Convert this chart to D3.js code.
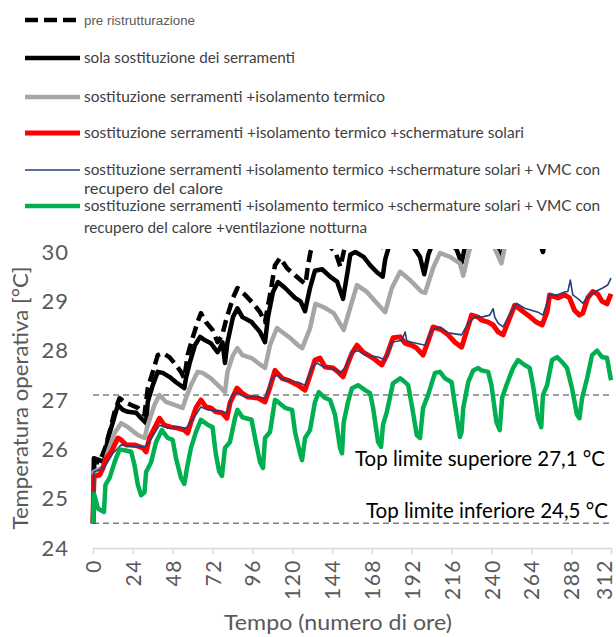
<!DOCTYPE html>
<html>
<head>
<meta charset="utf-8">
<script src="https://cdn.jsdelivr.net/npm/d3@7"></script>
<style>
  body { margin: 0; background: #fff; }
  text { font-family: Lato, 'Open Sans', sans-serif; }
</style>
</head>
<body>
<svg id="chart" width="616" height="637"></svg>
<script>
// tick values
const xTicks = [0, 24, 48, 72, 96, 120, 144, 168, 192, 216, 240, 264, 288, 312];
const yTicks = [24, 25, 26, 27, 28, 29, 30];

// comfort limits
const limitValues = [27.1, 24.5];
const limitLabels = ['Top limite superiore 27,1 °C', 'Top limite inferiore 24,5 °C'];

// [hour, operative temperature]
const preRistrutturazione = [[0,24.5],[0.8,25.74],[4,25.74],[8,26.09],[10,26.35],[13,26.76],[16,27.04],[19,26.96],[23,26.9],[27,26.84],[31,26.7],[33,27.24],[36,27.57],[39,27.91],[42,27.95],[46,27.87],[49,27.75],[53,27.57],[55,27.44],[57,27.91],[60,28.26],[63,28.58],[65,28.76],[68,28.58],[72,28.42],[75,28.17],[77.7,28.3],[80,28.6],[84.3,29.07],[87,29.27],[91.6,29.13],[96.4,28.96],[100.6,28.78],[103.6,28.58],[106.6,29.13],[109.6,29.73],[112.7,29.88],[116.9,29.67],[121.7,29.53],[126.5,29.39],[128,29.35],[129.5,29.73],[131,30.0],[134,30.3],[140,30.2],[146,30.0],[149,29.7],[151,30.0],[155,30.5],[165,30.4],[174,30.1],[178,30.6],[190,30.7],[199,30.4],[205,30.9],[215,30.8],[222,30.5],[228,31.0],[245,30.7],[255,31.2],[270,31.0],[280,31.4],[295,31.3],[312,31.6]];

const solaSerramenti = [[0,24.5],[0.5,25.82],[4,25.78],[6.6,25.74],[9,26.23],[12,26.55],[15,26.9],[18,26.8],[21,26.76],[26,26.74],[29,26.63],[32,26.53],[33,26.96],[36,27.3],[39,27.57],[42,27.55],[46,27.47],[50,27.36],[55,27.24],[56,27.44],[58.4,27.77],[61.4,28.11],[64.5,28.28],[67.5,28.21],[71,28.15],[75,27.97],[76.5,28.05],[78,28.17],[79.5,27.75],[81,28.17],[84.3,28.68],[87,28.86],[90,28.68],[95.5,28.58],[100.6,28.38],[103.6,28.17],[105.4,28.68],[108.4,29.19],[111.4,29.39],[115.7,29.27],[121.7,29.07],[125,29.0],[127.7,28.8],[130.7,29.27],[133.7,29.62],[138,29.65],[142.8,29.5],[147,29.4],[150.6,29.05],[153,29.53],[155,29.95],[158,30.0],[163,29.9],[167,29.73],[171,29.59],[174.5,29.5],[176,29.85],[179,30.2],[186,30.3],[193,30.1],[197,29.9],[199.5,29.55],[202,29.95],[206,30.3],[212,30.3],[219,30.05],[222,29.78],[224,30.1],[228,30.6],[236,30.5],[242,30.2],[246,29.88],[249,30.3],[255,30.7],[262,30.5],[268,30.3],[271,30.0],[274,30.5],[280,30.9],[292,30.7],[300,31.1],[312,31.2]];

const isolamento = [[0,24.5],[0.5,25.54],[6,25.64],[9,25.95],[13,26.33],[17,26.53],[21,26.45],[27,26.29],[31,26.23],[33,26.49],[37,26.9],[40,27.1],[44,26.96],[49,26.9],[54,26.84],[56,27.04],[59,27.3],[63,27.57],[66,27.55],[71,27.44],[76.5,27.26],[79.5,27.16],[81,27.57],[84.3,27.91],[87,28.05],[90,27.91],[95.5,27.85],[99.4,27.75],[103.6,27.65],[106.6,28.11],[110.8,28.46],[113.9,28.38],[118.7,28.26],[123.5,28.11],[126,28.05],[130.7,28.45],[134,28.95],[139,28.88],[145,28.76],[151,28.42],[155,28.88],[159,29.33],[165,29.19],[171,28.96],[176,28.78],[180,29.27],[185,29.6],[191,29.43],[198,29.19],[200,29.17],[205,29.69],[209,29.98],[215,29.9],[221,29.77],[223,29.52],[226,29.95],[229,30.3],[235,30.4],[240,30.2],[243,30.0],[246,29.77],[248,30.1],[252,30.5],[260,30.6],[270,30.4],[276,30.8],[290,30.7],[300,31.0],[312,30.9]];

const schermature = [[0,24.5],[0.5,25.45],[4,25.48],[6,25.62],[8,25.82],[11,25.95],[15,26.23],[17,26.19],[20,26.09],[25,26.09],[30,26.03],[32,25.95],[34,26.23],[37,26.43],[40,26.63],[43,26.49],[47,26.45],[51,26.43],[55,26.39],[57,26.33],[59,26.55],[62,26.84],[65,27.0],[68,26.86],[71,26.84],[74,26.76],[77.7,26.74],[80.7,26.63],[82.5,26.94],[86.7,27.24],[89.8,27.14],[93.4,27.06],[99.4,27.04],[103.6,26.96],[106.6,27.26],[109.6,27.6],[113.9,27.44],[117.5,27.4],[123.5,27.3],[127.7,27.2],[130.7,27.5],[133.7,27.81],[136.7,27.85],[139.8,27.67],[144.6,27.65],[147.6,27.57],[150.6,27.47],[153.6,27.75],[156,27.95],[159,28.11],[162.7,27.97],[168.7,27.85],[174,27.71],[177,27.91],[180.7,28.26],[185,28.28],[188,28.15],[192,28.11],[195,28.05],[198.8,27.91],[201,28.11],[204.8,28.48],[210,28.42],[213.9,28.32],[218,28.17],[222,28.07],[224,28.28],[228,28.72],[232,28.68],[234,28.62],[238,28.58],[241,28.52],[244,28.38],[247,28.32],[250,28.58],[254,28.92],[258,28.82],[262,28.72],[267,28.58],[270.5,28.52],[273.5,28.78],[275,29.13],[280,29.07],[284,29.13],[287,29.07],[290,28.82],[293,28.72],[295,28.76],[298,29.07],[301,29.2],[304,29.15],[306.6,29.0],[309.6,28.95],[312,29.15]];

const vmc = [[0,24.5],[0.6,25.54],[7,25.64],[12,25.92],[17,26.09],[25,26.05],[31,26.05],[34,26.15],[40,26.49],[45,26.43],[51,26.45],[56,26.43],[61,26.65],[65,26.86],[69,26.8],[75,26.78],[78,26.76],[80.7,26.74],[83.7,27.1],[86.7,27.14],[91.6,27.06],[99.4,27.06],[103.6,27.04],[107.8,27.44],[110.8,27.5],[115.7,27.4],[123.5,27.36],[127.7,27.3],[131.9,27.65],[135,27.75],[138.6,27.67],[144,27.65],[148.8,27.55],[151.8,27.65],[156,27.97],[159.6,28.0],[163.9,27.91],[171.7,27.87],[176,27.81],[180,28.17],[186,28.21],[188,28.38],[189,28.2],[192,28.17],[200,28.11],[204,28.42],[209,28.48],[213.9,28.36],[222,28.32],[226,28.56],[230,28.68],[234,28.68],[239,28.72],[241,28.85],[242,28.68],[244,28.56],[247,28.48],[250,28.68],[255,28.96],[260,28.86],[268,28.78],[271,28.72],[275,29.13],[279.5,29.13],[284,29.19],[286,29.2],[287.5,29.43],[289,29.13],[293,29.03],[295,28.96],[298,29.09],[302,29.19],[307,29.27],[310,29.33],[312,29.47]];

const ventilazione = [[0,24.5],[0.6,25.1],[3,24.8],[6.6,24.73],[7.5,25.28],[10,25.42],[13,25.74],[16,26.0],[19,25.98],[23,25.95],[25,25.68],[27,25.28],[29,25.07],[31,25.13],[32,25.54],[35,25.74],[38,26.15],[41.5,26.39],[45,26.23],[48,26.19],[50,25.82],[53,25.42],[55,25.3],[56.6,25.62],[59,26.03],[62,26.35],[65,26.6],[69,26.5],[72,26.45],[74,25.9],[76,25.55],[77.7,25.46],[79.5,26.03],[82.5,26.15],[85.5,26.63],[87,26.8],[90,26.65],[95.5,26.6],[97.6,26.23],[100.6,25.74],[102.4,25.62],[103.6,26.23],[106.6,26.35],[109.6,27.0],[111.4,26.96],[115.7,26.84],[119.9,26.8],[121.7,26.35],[124.7,25.92],[125.9,25.78],[127.7,26.23],[130.7,26.39],[133.7,26.96],[136,27.16],[139.8,27.04],[142.8,27.0],[145.8,26.7],[148.8,26.03],[150,25.92],[151,26.55],[153.6,26.96],[156,27.24],[159.6,27.3],[163.9,27.2],[166.9,27.14],[168.7,26.84],[171.7,26.15],[173.5,26.05],[174.7,26.5],[177,26.76],[180.7,27.34],[185,27.44],[188,27.36],[189.8,27.3],[192,26.9],[195,26.29],[197,26.23],[198.8,26.84],[201.8,27.1],[206,27.55],[209,27.57],[212,27.44],[216,27.36],[218,26.9],[221,26.25],[222,26.35],[223,26.84],[226,27.36],[229,27.6],[232,27.65],[234,27.6],[238,27.57],[240,27.3],[243,26.55],[245,26.39],[246.4,27.04],[249,27.3],[253,27.65],[256,27.81],[260,27.71],[263,27.65],[265,27.3],[268,26.63],[270,26.45],[271,27.1],[273.5,27.3],[276.5,27.81],[279.5,27.87],[282.5,27.77],[285.5,27.65],[288.5,27.24],[291.5,26.7],[293,26.63],[294.6,27.04],[297.6,27.44],[300.6,27.91],[303.6,28.0],[306.6,27.87],[309.6,27.85],[312,27.4]];

const seriesData = [preRistrutturazione, solaSerramenti, isolamento, schermature, vmc, ventilazione];

const legendLabels = [
  ['pre ristrutturazione'],
  ['sola sostituzione dei serramenti'],
  ['sostituzione serramenti +isolamento termico'],
  ['sostituzione serramenti +isolamento termico +schermature solari'],
  ['sostituzione serramenti +isolamento termico +schermature solari + VMC con', 'recupero del calore'],
  ['sostituzione serramenti +isolamento termico +schermature solari + VMC con', 'recupero del calore +ventilazione notturna']
];

// styles, one per series
const seriesStyle = [
  {color: '#000000', width: 4.5, dash: '12,6'},
  {color: '#000000', width: 4.5, dash: null},
  {color: '#a6a6a6', width: 4.5, dash: null},
  {color: '#ff0000', width: 5, dash: null},
  {color: '#24417a', width: 1.6, dash: null},
  {color: '#00b050', width: 4.5, dash: null}
];

function makeChart() {
  let svg = d3.select('#chart');

  let xScale = d3.scaleLinear().domain([0, 312]).range([93, 611]);
  let yScale = d3.scaleLinear().domain([24, 30]).range([548, 252]);

  // lines above 30 are cut off like in the original
  svg.append('clipPath').attr('id', 'plotClip')
    .append('rect')
    .attr('x', 85).attr('y', yScale(30) - 3)
    .attr('width', 531).attr('height', 310);

  // LEGEND
  let legendY = [20, 58, 97, 133, 170, 206];
  let legendLen = [[111], [211], [301], [440], [516, 139], [516, 283]];
  legendLabels.forEach((lines, i) => {
    let st = seriesStyle[i];
    svg.append('line')
      .attr('x1', 25).attr('x2', i === 0 ? 77 : 80)
      .attr('y1', legendY[i]).attr('y2', legendY[i])
      .attr('stroke', st.color)
      .attr('stroke-width', st.width)
      .attr('stroke-dasharray', st.dash ? '13,6' : null);
    lines.forEach((t, j) => {
      svg.append('text')
        .attr('x', 84)
        .attr('y', legendY[i] + 5 + j * (i === 5 ? 22 : 19))
        .attr('fill', i === 0 ? '#595959' : '#404040')
        .style('font-size', i === 0 ? '12px' : '14.5px')
        .style('font-family', i === 0 ? "'Liberation Sans Narrow', 'Liberation Sans', sans-serif" : null)
        .attr('textLength', legendLen[i][j])
        .attr('lengthAdjust', 'spacingAndGlyphs')
        .text(t);
    });
  });

  // LIMIT LINES
  limitValues.forEach((v) => {
    svg.append('line')
      .attr('x1', xScale(0)).attr('x2', xScale(312))
      .attr('y1', yScale(v)).attr('y2', yScale(v))
      .attr('stroke', '#7f7f7f')
      .attr('stroke-width', 1.5)
      .attr('stroke-dasharray', '6,4');
  });

  svg.append('text')
    .attr('x', 605).attr('y', 466)
    .attr('text-anchor', 'end')
    .style('font-size', '21px')
    .attr('textLength', 250).attr('lengthAdjust', 'spacingAndGlyphs')
    .text(limitLabels[0]);
  svg.append('text')
    .attr('x', 608).attr('y', 518)
    .attr('text-anchor', 'end')
    .style('font-size', '21px')
    .attr('textLength', 242).attr('lengthAdjust', 'spacingAndGlyphs')
    .text(limitLabels[1]);

  // SERIES
  let line = d3.line()
    .x((d) => xScale(d[0]))
    .y((d) => yScale(d[1]));

  let plot = svg.append('g').attr('clip-path', 'url(#plotClip)');
  seriesData.forEach((data, i) => {
    let st = seriesStyle[i];
    plot.append('path')
      .datum(data)
      .attr('d', line)
      .attr('fill', 'none')
      .attr('stroke', st.color)
      .attr('stroke-width', st.width)
      .attr('stroke-linejoin', 'round')
      .attr('stroke-dasharray', st.dash);
  });

  // AXES
  let xAxis = d3.axisBottom(xScale)
    .tickValues(xTicks)
    .tickSize(6)
    .tickSizeOuter(0)
    .tickFormat(d3.format('d'));

  let gx = svg.append('g')
    .attr('transform', `translate(0, ${yScale(24)})`)
    .call(xAxis);
  gx.select('.domain').attr('stroke', '#d9d9d9').attr('stroke-width', 1.5);
  gx.selectAll('.tick line').attr('stroke', '#d9d9d9').attr('stroke-width', 1.5);
  // last label pulled in a bit so it stays inside the page
  gx.selectAll('.tick text')
    .attr('transform', 'rotate(-90)')
    .attr('x', -11)
    .attr('y', (d, i) => i === xTicks.length - 1 ? -7 : 0)
    .attr('dy', '0.36em')
    .attr('text-anchor', 'end')
    .attr('fill', '#595959')
    .style('font-size', '21px')
    .style('letter-spacing', '1.5px')
    .style('font-family', 'Lato, sans-serif');

  let yAxis = d3.axisLeft(yScale)
    .tickValues(yTicks)
    .tickSize(0)
    .tickPadding(24)
    .tickFormat(d3.format('d'));

  let gy = svg.append('g')
    .attr('transform', `translate(${xScale(0)}, 0)`)
    .call(yAxis);
  gy.select('.domain').remove();
  gy.selectAll('.tick text')
    .attr('fill', '#595959')
    .style('font-size', '22px')
    .style('letter-spacing', '1px')
    .style('font-family', 'Lato, sans-serif');

  //Axis titles
  svg.append('text')
    .attr('transform', 'translate(28, 398) rotate(-90)')
    .attr('text-anchor', 'middle')
    .attr('fill', '#595959')
    .style('font-size', '22px')
    .attr('textLength', 263).attr('lengthAdjust', 'spacingAndGlyphs')
    .text('Temperatura operativa [°C]');

  svg.append('text')
    .attr('x', 338).attr('y', 630)
    .attr('text-anchor', 'middle')
    .attr('fill', '#595959')
    .style('font-size', '22px')
    .attr('textLength', 228).attr('lengthAdjust', 'spacingAndGlyphs')
    .text('Tempo (numero di ore)');
}

window.onload = function () {
  makeChart();
}
</script>
</body>
</html>
